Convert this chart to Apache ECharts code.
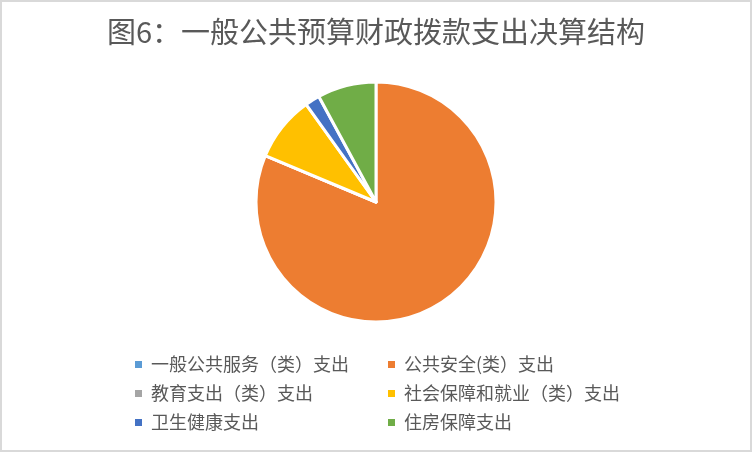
<!DOCTYPE html>
<html>
<head>
<meta charset="utf-8">
<script src="https://cdn.jsdelivr.net/npm/echarts@6/dist/echarts.min.js"></script>
<style>
  html, body { margin: 0; padding: 0; background: #fff; }
  #wrap { position: relative; width: 752px; height: 452px; }
  #main { width: 752px; height: 452px; }
  #frame { position: absolute; left: 0; top: 0; width: 752px; height: 452px; box-sizing: border-box; border: 2px solid #d9d9d9; pointer-events: none; }
</style>
</head>
<body>
<div id="wrap">
  <div id="main"></div>
  <div id="frame"></div>
</div>
<script>
// 支出类别 & 占比(%)
var categories = ['一般公共服务（类）支出', '公共安全(类）支出', '教育支出（类）支出', '社会保障和就业（类）支出', '卫生健康支出', '住房保障支出'];
var values = [0, 81.3, 0, 8.8, 2.0, 7.9];
var colors = ['#5B9BD5', '#ED7D31', '#A5A5A5', '#FFC000', '#4472C4', '#70AD47'];

var font = '"Noto Sans CJK SC", "Microsoft YaHei", sans-serif';

var pieData = categories.map(function (name, i) {
  return { name: name, value: values[i], itemStyle: { color: colors[i] } };
});

// 图例分两列
var leftNames = categories.filter(function (n, i) { return i % 2 === 0; });
var rightNames = categories.filter(function (n, i) { return i % 2 === 1; });

function legendCol(x, names) {
  return {
    orient: 'vertical',
    left: x,
    top: 350,
    data: names,
    icon: 'rect',
    itemWidth: 9,
    itemHeight: 9,
    itemGap: 10,
    textStyle: { color: '#595959', fontSize: 18, fontFamily: font, lineHeight: 19, padding: [0, 0, 0, 3] },
    selectedMode: false
  };
}

var myChart = echarts.init(document.getElementById('main'));
myChart.setOption({
  animation: false,
  backgroundColor: '#fff',
  title: {
    text: '图6：一般公共预算财政拨款支出决算结构',
    left: 'center',
    top: 12,
    textStyle: { color: '#595959', fontSize: 29, fontWeight: 'normal', fontFamily: font }
  },
  legend: [legendCol(128, leftNames), legendCol(381, rightNames)],
  series: [{
    type: 'pie',
    center: [376, 202],
    radius: 120,
    startAngle: 90,
    clockwise: true,
    label: { show: false },
    labelLine: { show: false },
    itemStyle: { borderColor: '#fff', borderWidth: 3 },
    emphasis: { disabled: true },
    data: pieData
  }]
});
</script>
</body>
</html>
